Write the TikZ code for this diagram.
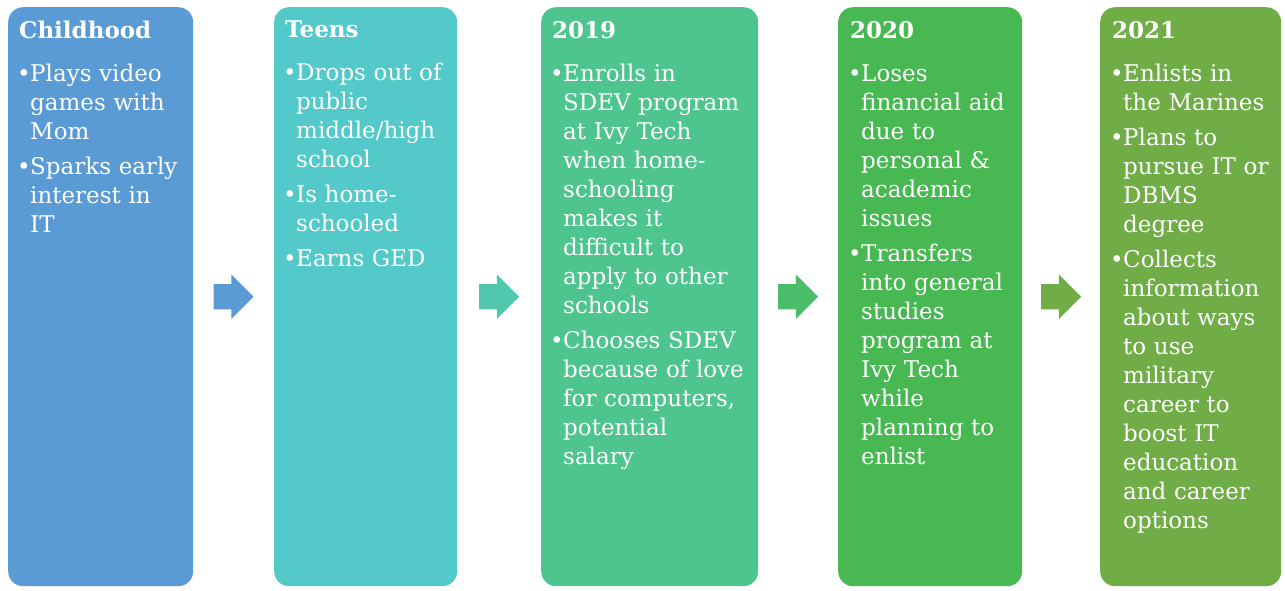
\documentclass[tikz,border=0pt]{standalone}
\usepackage{fontspec}
\setmainfont{DejaVu Serif}
\usepackage{tikz}
\usetikzlibrary{shapes.arrows,calc}

\definecolor{cblue}{HTML}{5B9BD5}
\definecolor{cteal}{HTML}{53C9C9}
\definecolor{cmint}{HTML}{4EC48E}
\definecolor{cgreen}{HTML}{48B952}
\definecolor{colive}{HTML}{70AD47}

\newcommand{\tlhead}[1]{\noindent\textbf{#1}\par\vspace{14pt}}
\newcommand{\tlitem}[1]{\noindent\hangindent=11pt\hangafter=1\makebox[11pt][l]{\hspace{-2pt}\textbullet}#1\par\vspace{6pt}}

\begin{document}
\begin{tikzpicture}[x=1pt,y=-1pt,
	box/.style={rectangle,rounded corners=15pt,minimum width=#1,minimum height=579pt,anchor=north west,inner sep=0pt},
	txt/.style={anchor=north west,inner sep=0pt,text width=240pt,text=white,font=\fontsize{23}{29}\selectfont\raggedright},
	blockarrow/.style={single arrow,minimum height=40pt,inner xsep=0pt,inner ysep=12.5pt,single arrow head extend=9.5pt,xshift=-6.5pt}]
	
	\useasboundingbox (0,0) rectangle (1285,590);
	
	\node[box=185pt,fill=cblue]  (child) at (8, 7)    {};
	\node[box=183pt,fill=cteal]  (teens) at (274, 7)  {};
	\node[box=217pt,fill=cmint]  (y2019) at (541, 7)  {};
	\node[box=184pt,fill=cgreen] (y2020) at (838, 7)  {};
	\node[box=181pt,fill=colive] (y2021) at (1100, 7) {};
	
	\node[txt] (childtxt) at ([shift={(11,14)}]child.north west) {\tlhead{Childhood}
		\tlitem{Plays video\newline games with\newline Mom}
		\tlitem{Sparks early\newline interest in\newline IT}};
	\node[txt] (teenstxt) at ([shift={(11,14)}]teens.north west) {\tlhead{Teens}
		\tlitem{Drops out of\newline public\newline middle/high\newline school}
		\tlitem{Is home-\newline schooled}
		\tlitem{Earns GED}};
	\node[txt] (y2019txt) at ([shift={(11,14)}]y2019.north west) {\tlhead{2019}
		\tlitem{Enrolls in\newline SDEV program\newline at Ivy Tech\newline when home-\newline schooling\newline makes it\newline difficult to\newline apply to other\newline schools}
		\tlitem{Chooses SDEV\newline because of love\newline for computers,\newline potential\newline salary}};
	\node[txt] (y2020txt) at ([shift={(12,14)}]y2020.north west) {\tlhead{2020}
		\tlitem{Loses\newline financial aid\newline due to\newline personal \&\newline academic\newline issues}
		\tlitem{Transfers\newline into general\newline studies\newline program at\newline Ivy Tech\newline while\newline planning to\newline enlist}};
	\node[txt] (y2021txt) at ([shift={(12,14)}]y2021.north west) {\tlhead{2021}
		\tlitem{Enlists in\newline the Marines}
		\tlitem{Plans to\newline pursue IT or\newline DBMS\newline degree}
		\tlitem{Collects\newline information\newline about ways\newline to use\newline military\newline career to\newline boost IT\newline education\newline and career\newline options}};
	
	\node[blockarrow,fill=cblue]                (a1) at ($(child.east)!0.5!(teens.west)$) {};
	\node[blockarrow,fill=cteal!55!cmint]       (a2) at ($(teens.east)!0.5!(y2019.west)$) {};
	\node[blockarrow,fill=cmint!40!cgreen]      (a3) at ($(y2019.east)!0.5!(y2020.west)$) {};
	\node[blockarrow,fill=colive]               (a4) at ($(y2020.east)!0.5!(y2021.west)$) {};
	
\end{tikzpicture}
\end{document}
